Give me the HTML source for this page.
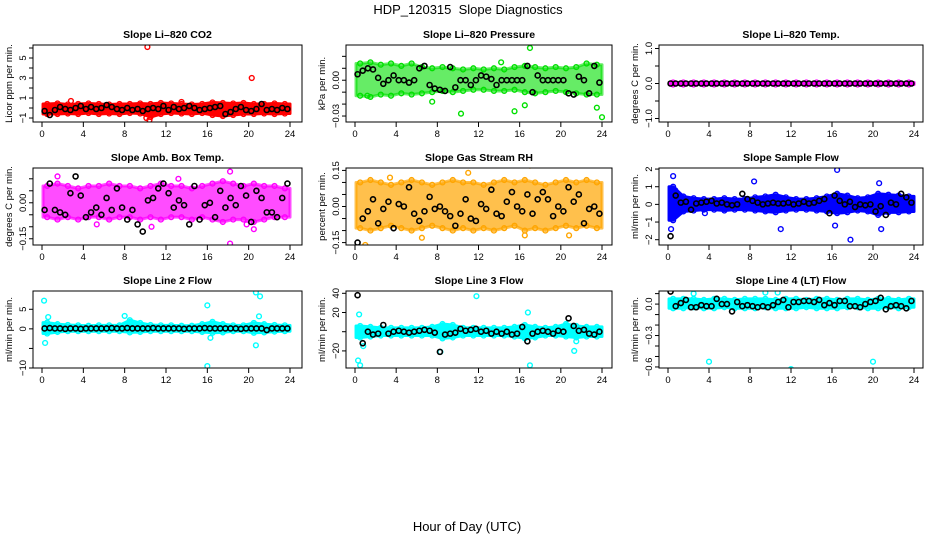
<!DOCTYPE html>
<html><head><meta charset="utf-8"><style>
html,body{margin:0;padding:0;background:#fff;}
svg{display:block;font-family:"Liberation Sans",sans-serif;}
</style></head><body>
<svg id="chart" width="936" height="540" viewBox="0 0 936 540">
<rect width="936" height="540" fill="#fff"/>
<text x="468" y="14" font-size="13" text-anchor="middle">HDP_120315&#160; Slope Diagnostics</text>
<text x="467" y="531" font-size="13" text-anchor="middle">Hour of Day (UTC)</text>
</svg>
<script>
const xTicks = [0,4,8,12,16,20,24];
const hourBins = [0.5,1.5,2.5,3.5,4.5,5.5,6.5,7.5,8.5,9.5,10.5,11.5,12.5,13.5,14.5,15.5,16.5,17.5,18.5,19.5,20.5,21.5,22.5,23.5];
const meanHours = [0.25,0.75,1.25,1.75,2.25,2.75,3.25,3.75,4.25,4.75,5.25,5.75,6.25,6.75,7.25,7.75,8.25,8.75,9.25,9.75,10.25,10.75,11.25,11.75,12.25,12.75,13.25,13.75,14.25,14.75,15.25,15.75,16.25,16.75,17.25,17.75,18.25,18.75,19.25,19.75,20.25,20.75,21.25,21.75,22.25,22.75,23.25,23.75];

const titles = ["Slope Li\u2013820 CO2","Slope Li\u2013820 Pressure","Slope Li\u2013820 Temp.","Slope Amb. Box Temp.","Slope Gas Stream RH","Slope Sample Flow","Slope Line 2 Flow","Slope Line 3 Flow","Slope Line 4 (LT) Flow"];
const yTitles = ["Licor ppm per min.","kPa per min.","degrees C per min.","degrees C per min.","percent per min.","ml/min per min.","ml/min per min.","ml/min per min.","ml/min per min."];
const colors = ["#ff0000","#00e000","#ff00ff","#ff00ff","#ffa500","#0000ff","#00ffff","#00ffff","#00ffff"];
const bandOpacity = [1,0.6,1,0.7,0.7,1,1,1,1];
const yLims = [[-1.4,6.3],[-0.035,0.0295],[-1.1,1.1],[-0.176,0.145],[-0.16,0.16],[-2.3,2.06],[-10,9.67],[-37.8,42.4],[-0.61,0.125]];
const yTicks = [[-1,0,1,2,3,4,5,6],[-0.03,-0.02,-0.01,0,0.01,0.02],[-1,-0.5,0,0.5,1],[-0.15,-0.1,-0.05,0,0.05,0.1],[-0.15,-0.1,-0.05,0,0.05,0.1,0.15],[-2,-1,0,1,2],[-10,-5,0,5],[-20,0,20,40],[-0.6,-0.5,-0.4,-0.3,-0.2,-0.1,0,0.1]];
const yTickLabels = [[[-1,"\u22121"],[1,"1"],[3,"3"],[5,"5"]],[[-0.03,"\u22120.03"],[0,"0.00"]],[[-1,"\u22121.0"],[0,"0.0"],[1,"1.0"]],[[-0.15,"\u22120.15"],[0,"0.00"]],[[-0.15,"\u22120.15"],[0,"0.00"],[0.15,"0.15"]],[[-2,"\u22122"],[-1,"\u22121"],[0,"0"],[1,"1"],[2,"2"]],[[-10,"\u221210"],[0,"0"],[5,"5"]],[[-20,"\u221220"],[20,"20"],[40,"40"]],[[-0.6,"\u22120.6"],[-0.3,"\u22120.3"],[0,"0.0"]]];

const bandLo = [
[-0.6,-0.6,-0.55,-0.6,-0.5,-0.6,-0.55,-0.6,-0.5,-0.55,-0.9,-0.6,-0.5,-0.55,-0.6,-0.5,-0.7,-0.8,-0.7,-0.6,-0.6,-0.55,-0.6,-0.55],
[-0.013,-0.014,-0.012,-0.013,-0.011,-0.012,-0.011,-0.010,-0.009,-0.010,-0.009,-0.008,-0.008,-0.009,-0.009,-0.008,-0.010,-0.011,-0.010,-0.009,-0.010,-0.011,-0.012,-0.012],
[-0.03,-0.03,-0.03,-0.03,-0.03,-0.03,-0.03,-0.03,-0.03,-0.03,-0.03,-0.03,-0.03,-0.03,-0.03,-0.03,-0.03,-0.03,-0.03,-0.03,-0.03,-0.03,-0.03,-0.03],
[-0.06,-0.07,-0.06,-0.07,-0.06,-0.06,-0.07,-0.06,-0.06,-0.07,-0.06,-0.07,-0.06,-0.06,-0.07,-0.06,-0.07,-0.08,-0.07,-0.07,-0.08,-0.07,-0.06,-0.06],
[-0.09,-0.1,-0.09,-0.08,-0.09,-0.1,-0.09,-0.08,-0.09,-0.1,-0.09,-0.1,-0.09,-0.1,-0.09,-0.08,-0.1,-0.09,-0.1,-0.09,-0.08,-0.09,-0.08,-0.09],
[-0.9,-0.4,-0.35,-0.3,-0.3,-0.35,-0.3,-0.3,-0.35,-0.4,-0.45,-0.35,-0.3,-0.3,-0.35,-0.4,-0.5,-0.45,-0.35,-0.4,-0.6,-0.45,-0.45,-0.4],
[-1.2,-0.8,-0.6,-0.6,-0.6,-0.6,-0.6,-0.6,-0.9,-0.8,-0.6,-0.6,-0.6,-0.6,-0.6,-0.8,-1.0,-0.9,-0.6,-0.6,-1.0,-0.9,-0.7,-0.6],
[-6,-5,-4,-4,-4,-4,-4,-4,-7,-6,-4,-4,-4,-4,-4,-5,-7,-6,-4,-4,-5,-6,-5,-5],
[-0.04,-0.04,-0.03,-0.04,-0.04,-0.03,-0.04,-0.04,-0.04,-0.03,-0.04,-0.04,-0.04,-0.03,-0.04,-0.04,-0.04,-0.03,-0.03,-0.04,-0.04,-0.03,-0.04,-0.03]];
const bandHi = [
[0.4,0.45,0.35,0.4,0.45,0.4,0.35,0.4,0.4,0.45,0.4,0.5,0.45,0.4,0.35,0.4,0.55,0.5,0.45,0.5,0.4,0.4,0.45,0.4],
[0.014,0.015,0.013,0.014,0.012,0.014,0.011,0.010,0.011,0.010,0.009,0.010,0.009,0.010,0.009,0.011,0.012,0.011,0.010,0.011,0.010,0.011,0.014,0.013],
[0.03,0.03,0.03,0.03,0.03,0.03,0.03,0.03,0.03,0.03,0.03,0.03,0.03,0.03,0.03,0.03,0.03,0.03,0.03,0.03,0.03,0.03,0.03,0.03],
[0.07,0.08,0.07,0.06,0.07,0.07,0.08,0.07,0.07,0.06,0.07,0.08,0.07,0.07,0.06,0.07,0.08,0.09,0.08,0.07,0.08,0.07,0.07,0.06],
[0.1,0.11,0.1,0.09,0.1,0.11,0.1,0.09,0.1,0.11,0.1,0.1,0.09,0.1,0.11,0.1,0.11,0.1,0.09,0.1,0.11,0.1,0.11,0.1],
[1.0,0.45,0.35,0.3,0.3,0.35,0.3,0.3,0.4,0.45,0.55,0.4,0.3,0.3,0.35,0.45,0.6,0.5,0.35,0.4,0.6,0.55,0.5,0.45],
[1.6,1.2,1.0,0.9,0.8,0.9,0.9,0.9,2.2,1.5,1.0,0.9,0.9,0.8,0.8,1.2,1.8,1.2,0.9,0.9,1.5,1.2,1.0,0.9],
[6,5,4,4,4,4,4,5,8,7,4,4,4,4,4,5,7,5,4,5,8,6,5,5],
[0.05,0.05,0.05,0.04,0.05,0.05,0.04,0.05,0.05,0.05,0.04,0.05,0.05,0.04,0.05,0.05,0.04,0.05,0.05,0.04,0.05,0.05,0.04,0.05]];

const means = [
[-0.3,-0.7,-0.2,0.1,-0.1,-0.2,0.0,0.2,-0.1,0.1,-0.1,0.0,0.3,0.1,-0.1,-0.2,0.0,-0.2,-0.1,-0.3,-0.1,0.0,-0.1,0.2,-0.2,0.1,-0.1,0.0,0.2,0.0,-0.2,-0.1,0.0,0.1,0.2,-0.6,-0.4,-0.1,0.1,-0.2,-0.3,-0.1,0.4,-0.2,-0.1,-0.2,0.0,-0.1],
[0.005,0.008,0.01,0.009,0.002,-0.003,0.0,0.004,0.0,0.0,-0.002,0.0,0.01,0.012,-0.004,-0.007,-0.008,-0.009,0.011,-0.006,0.0,0.0,-0.004,0.0,0.004,0.003,0.001,-0.004,0.0,0.0,0.0,0.0,0.0,0.012,-0.010,0.004,0.0,0.0,0.0,0.0,0.0,-0.011,-0.012,0.003,0.0,-0.011,0.012,-0.002],
[0,0,0,0,0,0,0,0,0,0,0,0,0,0,0,0,0,0,0,0,0,0,0,0,0,0,0,0,0,0,0,0,0,0,0,0,0,0,0,0,0,0,0,0,0,0,0,0],
[-0.03,0.08,-0.03,-0.04,-0.05,0.04,0.11,0.03,-0.06,-0.04,-0.02,-0.05,0.02,-0.03,0.06,-0.02,-0.07,-0.03,-0.09,-0.12,0.01,0.02,0.06,0.08,0.04,-0.02,0.01,-0.01,-0.09,0.07,-0.07,-0.01,0.0,-0.06,0.05,-0.02,0.02,-0.01,0.07,0.03,-0.08,0.05,0.02,-0.04,-0.04,-0.06,0.02,0.08],
[-0.15,-0.05,-0.02,0.03,-0.07,-0.01,0.02,-0.09,0.01,0.0,0.08,-0.03,-0.06,-0.02,0.04,-0.01,0.0,-0.02,-0.04,-0.08,-0.03,0.03,-0.05,-0.06,0.01,-0.01,0.07,-0.03,-0.04,0.02,0.06,0.0,-0.02,0.05,-0.03,0.03,0.06,0.03,-0.04,0.0,-0.02,0.08,0.02,0.05,-0.07,-0.01,0.0,-0.03],
[-1.8,0.5,0.1,0.15,-0.3,0.05,0.1,0.15,0.2,0.05,0.1,0.0,-0.05,0.0,0.6,0.3,0.2,0.1,0.0,0.05,0.1,0.05,0.05,0.1,0.0,0.05,0.15,0.05,0.1,0.2,0.3,-0.5,0.5,0.2,0.0,0.15,-0.15,0.0,-0.05,0.0,-0.4,-0.1,-0.6,0.1,0.0,0.6,0.4,0.1],
[0.1,0.2,0.1,0.1,0.0,0.1,0.1,0.0,0.1,0.1,0.1,0.1,0.1,0.2,0.1,0.1,0.2,0.1,0.1,0.1,0.1,0.2,0.1,0.1,0.1,0.1,0.1,0.0,0.1,0.1,0.1,0.2,0.1,0.1,0.1,0.1,0.1,0.1,0.0,0.1,0.1,0.1,0.1,-0.3,0.1,0.1,0.1,0.1],
[38,-12,0,-3,-2,7,-2,0,1,0,-1,0,1,2,1,-1,-21,-3,-2,-1,3,1,2,3,0,1,-2,0,-2,0,-3,-2,5,-10,-2,0,1,0,-2,1,0,14,6,1,2,-2,-3,0],
[0.12,-0.02,0.01,0.04,-0.03,-0.03,-0.01,-0.02,-0.02,0.05,0.0,0.0,-0.07,0.02,-0.02,-0.01,-0.02,-0.03,-0.02,-0.03,-0.01,0.02,0.04,-0.03,0.02,0.02,0.03,0.03,0.02,0.04,-0.01,0.01,-0.01,0.03,0.03,-0.02,-0.02,-0.03,0.0,0.02,0.03,0.06,-0.05,-0.02,-0.01,-0.02,-0.04,0.03]];

const outlierHours = [
[10.2,20.3,10.4,10.1,2.8,13.5],
[10.3,15.5,23.8,24.0,17.0,23.5,1.2,7.5,16.5,14.2],
[],
[18.2,18.2,20.5,5.3,10.6,13.2,19.8,1.5],
[1.0,16.5,17.0,6.5,11.0,3.4,20.8],
[0.5,0.3,16.5,16.3,17.8,8.4,11.0,20.6,20.8,0.7,3.6],
[0.2,0.3,16.0,16.0,20.7,21.1,20.7,16.3,0.6,8.0,21.0],
[0.3,0.5,11.8,16.8,17.0,21.3,0.4,0.8,8.3,21.5],
[4.0,12.0,20.0,2.5,9.5,10.7]];
const outlierVals = [
[6.1,3.0,-1.2,-1.0,0.7,0.6],
[-0.028,-0.026,0.033,-0.031,0.027,-0.023,-0.013,-0.018,-0.021,0.015],
[],
[0.13,-0.17,-0.11,-0.09,-0.1,0.1,-0.09,0.11],
[-0.16,-0.12,0.17,-0.13,0.14,0.12,-0.12],
[1.6,-1.4,1.95,-1.2,-2.0,1.3,-1.4,1.2,-1.4,0.8,-0.5],
[7.2,-3.6,6.0,-9.5,9.3,8.3,-4.2,-2.3,3.0,3.3,3.2],
[-30,-35,37,20,-35,-20,18,-15,-21,-10],
[-0.55,-0.62,-0.55,0.1,0.11,0.11]];

const cols = [{L:33,R:302,h0:42,h1:290},{L:346,R:612,h0:355,h1:602},{L:659,R:923,h0:668,h1:914}];
const rowTops = [45,168,291];
const PH = 77;
const NS = "http://www.w3.org/2000/svg";
const svg = document.getElementById("chart");

function mk(tag, attrs, parent, text){
  const e = document.createElementNS(NS, tag);
  for (const k in attrs) e.setAttribute(k, attrs[k]);
  if (text !== undefined) e.textContent = text;
  parent.appendChild(e);
  return e;
}

for (let p = 0; p < 9; p++) {
  const c = cols[p % 3], top = rowTops[Math.floor(p / 3)], bot = top + PH;
  const [y0, y1] = yLims[p];
  const xs = h => c.h0 + (c.h1 - c.h0) * h / 24;
  const ys = v => bot - (v - y0) / (y1 - y0) * PH;
  const g = mk("g", {}, svg);
  
  

  const t = mk("text", {x:(c.L + c.R) / 2, y:top - 7, "font-size":"10.5", "font-weight":"bold", "text-anchor":"middle"}, g, titles[p]);
  
  

  const yt = mk("text", {transform:`translate(${c.L - 21},${top + PH / 2}) rotate(-90)`, "font-size":"9.5", "text-anchor":"middle"}, g, yTitles[p]);
  
  

  const clipId = "clip" + p;
  const cp = mk("clipPath", {id:clipId}, g);
  mk("rect", {x:c.L, y:top, width:c.R - c.L, height:PH}, cp);
  const plot = mk("g", {"clip-path":`url(#${clipId})`}, g);

  const lo = bandLo[p], hi = bandHi[p], col = colors[p];
  let pts = [];
  pts.push(xs(0.1) + "," + ys(hi[0]));
  for (let i = 0; i < hourBins.length; i++) pts.push(xs(hourBins[i]) + "," + ys(hi[i]));
  pts.push(xs(24) + "," + ys(hi[hi.length - 1]));
  pts.push(xs(24) + "," + ys(lo[lo.length - 1]));
  for (let i = hourBins.length - 1; i >= 0; i--) pts.push(xs(hourBins[i]) + "," + ys(lo[i]));
  pts.push(xs(0.1) + "," + ys(lo[0]));
  const band = mk("polygon", {points:pts.join(" "), fill:col, "fill-opacity":bandOpacity[p], stroke:col, "stroke-opacity":bandOpacity[p], "stroke-width":"3", "stroke-linejoin":"round"}, plot);
  
  

  for (let i = 0; i < hourBins.length; i++) {
    for (const v of [lo[i], hi[i]]) {
      const ci = mk("circle", {cx:xs(hourBins[i]), cy:ys(v), r:2.4, fill:"none", stroke:col, "stroke-width":"1.4"}, plot);
      
      
    }
  }
  for (let i = 0; i < outlierHours[p].length; i++) {
    const ci = mk("circle", {cx:xs(outlierHours[p][i]), cy:ys(outlierVals[p][i]), r:2.4, fill:"none", stroke:col, "stroke-width":"1.4"}, plot);
    
    
  }
  for (let i = 0; i < meanHours.length; i++) {
    const ci = mk("circle", {cx:xs(meanHours[i]), cy:ys(means[p][i]), r:2.5, fill:"none", stroke:"#000", "stroke-width":"1.6"}, plot);
    
    
  }

  const box = mk("rect", {x:c.L, y:top, width:c.R - c.L, height:PH, fill:"none", stroke:"#000", "stroke-width":"1"}, g);
  
  

  for (const h of xTicks) {
    mk("line", {x1:xs(h), x2:xs(h), y1:bot, y2:bot + 5, stroke:"#000"}, g);
    const lt = mk("text", {x:xs(h), y:bot + 15, "font-size":"9.5", "text-anchor":"middle"}, g, String(h));
    
    
  }
  for (const v of yTicks[p]) {
    mk("line", {x1:c.L - 4, x2:c.L, y1:ys(v), y2:ys(v), stroke:"#000"}, g);
  }
  for (const [v, s] of yTickLabels[p]) {
    const lt = mk("text", {transform:`translate(${c.L - 7},${ys(v)}) rotate(-90)`, "font-size":"9.5", "text-anchor":"middle"}, g, s);
    
    
  }
}
</script>
</body></html>
